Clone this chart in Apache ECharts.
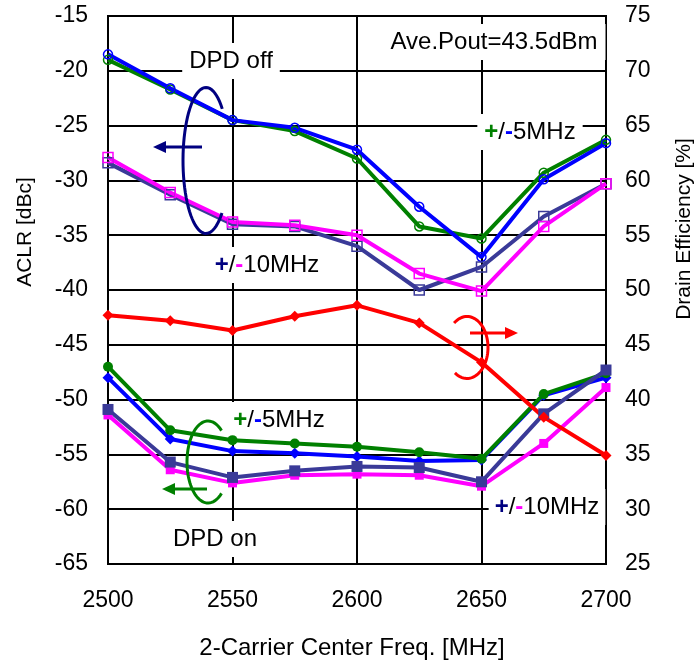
<!DOCTYPE html>
<html>
<head>
<meta charset="utf-8">
<script src="https://cdn.jsdelivr.net/npm/echarts@6/dist/echarts.min.js"></script>
<style>html,body{margin:0;padding:0;background:#fff}#c{width:697px;height:664px}</style>
</head>
<body>
<div id="c"></div>
<script>
var freqs = [2500, 2525, 2550, 2575, 2600, 2625, 2650, 2675, 2700];
var xTicks = [2500, 2550, 2600, 2650, 2700];
var aclrTicks = [-65, -60, -55, -50, -45, -40, -35, -30, -25, -20, -15];
var effTicks = [25, 30, 35, 40, 45, 50, 55, 60, 65, 70, 75];

// DPD off
var offBlue5  = [-18.5, -21.6, -24.5, -25.2, -27.2, -32.4, -37.0, -29.9, -26.6];
var offGreen5 = [-19.0, -21.7, -24.5, -25.5, -28.0, -34.2, -35.3, -29.3, -26.3];
var offMag10  = [-27.9, -31.1, -33.8, -34.1, -35.0, -38.5, -40.1, -34.2, -30.3];
var offSlate10= [-28.4, -31.3, -34.0, -34.2, -36.0, -40.0, -37.9, -33.3, -30.3];
// Drain efficiency [%]
var eff = [47.7, 47.2, 46.3, 47.6, 48.6, 47.0, 43.4, 38.4, 34.9];
// DPD on
var onGreen5  = [-47.0, -52.8, -53.7, -54.0, -54.3, -54.8, -55.4, -49.5, -47.6];
var onBlue5   = [-48.0, -53.6, -54.7, -54.9, -55.2, -55.6, -55.5, -49.6, -48.0];
var onSlate10 = [-50.9, -55.7, -57.1, -56.5, -56.1, -56.2, -57.5, -51.3, -47.3];
var onMag10   = [-51.4, -56.4, -57.6, -56.9, -56.8, -56.9, -57.9, -54.0, -48.9];

var FONT = "'Liberation Sans', Arial, Helvetica, sans-serif";
var BLUE = '#0000ff', GREEN = '#008000', MAG = '#ff00ff', SLATE = '#3a3a98', RED = '#ff0000', NAVY = '#000080';

function pairs(vals) { return freqs.map(function (f, i) { return [f, vals[i]]; }); }
function ser(name, vals, color, symbol, size, open, yIdx, width) {
  return {
    name: name, type: 'line', yAxisIndex: yIdx || 0, data: pairs(vals),
    symbol: symbol, symbolSize: size, showSymbol: true,
    lineStyle: { color: color, width: width || 4 },
    itemStyle: open ? { color: 'rgba(0,0,0,0)', borderColor: color, borderWidth: 1.5 }
                    : { color: color, borderColor: color, borderWidth: 0 },
    emphasis: { disabled: true }, z: 2
  };
}
function plain(v) { return String(v); }

var chart = echarts.init(document.getElementById('c'), null, { renderer: 'canvas' });
var option = {
  animation: false,
  backgroundColor: '#fff',
  grid: { left: 108, right: 91, top: 16, bottom: 100, show: true, borderColor: '#000', borderWidth: 2, backgroundColor: 'transparent' },
  xAxis: {
    type: 'value', min: xTicks[0], max: xTicks[xTicks.length - 1], interval: 50,
    axisLine: { show: true, lineStyle: { color: '#000', width: 2 } },
    axisTick: { show: false },
    axisLabel: { color: '#000', fontSize: 23, fontFamily: FONT, margin: 25, formatter: plain },
    splitLine: { show: true, lineStyle: { color: '#000', width: 2 } }
  },
  yAxis: [{
    type: 'value', min: aclrTicks[0], max: aclrTicks[aclrTicks.length - 1], interval: 5,
    axisLine: { show: true, lineStyle: { color: '#000', width: 2 } },
    axisTick: { show: false },
    axisLabel: { color: '#000', fontSize: 23, fontFamily: FONT, margin: 20, formatter: plain },
    splitLine: { show: true, lineStyle: { color: '#000', width: 2 } }
  }, {
    type: 'value', position: 'right', min: effTicks[0], max: effTicks[effTicks.length - 1], interval: 5,
    axisLine: { show: true, lineStyle: { color: '#000', width: 2 } },
    axisTick: { show: false },
    axisLabel: { color: '#000', fontSize: 23, fontFamily: FONT, margin: 19, formatter: plain },
    splitLine: { show: false }
  }],
  series: [
    ser('DPD off +5MHz', offGreen5, GREEN, 'circle', 9, true),
    ser('DPD off -5MHz', offBlue5, BLUE, 'circle', 9, true),
    ser('DPD off +10MHz', offSlate10, SLATE, 'rect', 10, true),
    ser('DPD off -10MHz', offMag10, MAG, 'rect', 10, true),
    ser('DPD on -5MHz', onBlue5, BLUE, 'diamond', 11, false),
    ser('DPD on +5MHz', onGreen5, GREEN, 'circle', 10, false),
    ser('DPD on -10MHz', onMag10, MAG, 'rect', 9, false),
    ser('DPD on +10MHz', onSlate10, SLATE, 'rect', 11, false),
    ser('Drain Efficiency', eff, RED, 'diamond', 11, false, 1, 4)
  ],
  graphic: { elements: [] }
};

function txt(x, y, text, rich, bg, pad) {
  return {
    type: 'text', x: x, y: y, z: 1,
    style: {
      text: text, fill: '#000', fontSize: 24, fontFamily: FONT,
      align: 'center', verticalAlign: 'middle',
      backgroundColor: bg ? '#fff' : null, padding: pad || [4, 5],
      rich: rich || {}
    }
  };
}
var plusMinus5 = { g: { fill: GREEN, fontSize: 24, fontFamily: FONT, fontWeight: 'bold' }, b: { fill: BLUE, fontSize: 24, fontFamily: FONT, fontWeight: 'bold' }, k: { fill: '#000', fontSize: 24, fontFamily: FONT } };
var plusMinus10 = { g: { fill: NAVY, fontSize: 24, fontFamily: FONT, fontWeight: 'bold' }, b: { fill: MAG, fontSize: 24, fontFamily: FONT, fontWeight: 'bold' }, k: { fill: '#000', fontSize: 24, fontFamily: FONT } };

var els = option.graphic.elements;
els.push(txt(231, 61, 'DPD off', null, true, [6, 7]));
els.push(txt(494, 42, 'Ave.Pout=43.5dBm', null, true, [6, 8]));
els.push(txt(530, 132, '{g|+}{k|/}{b|-}{k|5MHz}', plusMinus5, true, [6, 7]));
els.push(txt(267, 265, '{g|+}{k|/}{b|-}{k|10MHz}', plusMinus10, true, [6, 7]));
els.push(txt(279, 420, '{g|+}{k|/}{b|-}{k|5MHz}', plusMinus5, true, [6, 7]));
els.push(txt(215, 539, 'DPD on', null, true, [6, 7]));
els.push(txt(547, 507, '{g|+}{k|/}{b|-}{k|10MHz}', plusMinus10, true, [6, 6]));

// axis titles
els.push({ type: 'text', x: 352, y: 648, style: { text: '2-Carrier Center Freq. [MHz]', fill: '#000', fontSize: 24, fontFamily: FONT, align: 'center', verticalAlign: 'middle' } });
els.push({ type: 'text', x: 25, y: 232, rotation: Math.PI / 2, style: { text: 'ACLR [dBc]', fill: '#000', fontSize: 21, fontFamily: FONT, align: 'center', verticalAlign: 'middle' } });
els.push({ type: 'text', x: 684, y: 229, rotation: Math.PI / 2, style: { text: 'Drain Efficiency [%]', fill: '#000', fontSize: 21, fontFamily: FONT, align: 'center', verticalAlign: 'middle' } });

// decorative ellipse arcs and arrows
function ellArc(cx, cy, rx, ry, a0, a1, color) {
  var pts = [], n = 60;
  for (var i = 0; i <= n; i++) {
    var a = (a0 + (a1 - a0) * i / n) * Math.PI / 180;
    pts.push([cx + rx * Math.cos(a), cy + ry * Math.sin(a)]);
  }
  return { type: 'polyline', z: 10, shape: { points: pts }, style: { fill: null, stroke: color, lineWidth: 3 } };
}
els.push(ellArc(206, 160.5, 23, 73, -45, -314, NAVY));
els.push(ellArc(467, 347.5, 21, 31, -128, 125, RED));
els.push(ellArc(208, 462, 21, 41, -50, -310, GREEN));
function arrow(x1, x2, y, color) {
  var dir = x2 > x1 ? 1 : -1;
  var base = x2 - dir * 13;
  return [
    { type: 'line', z: 10, shape: { x1: x1, y1: y, x2: base, y2: y }, style: { stroke: color, lineWidth: 3 } },
    { type: 'polygon', z: 10, shape: { points: [[x2, y], [base, y - 6], [base, y + 6]] }, style: { fill: color } }
  ];
}
[].push.apply(els, arrow(202, 153, 147, NAVY));
[].push.apply(els, arrow(470, 518, 333, RED));
[].push.apply(els, arrow(207, 162, 489, GREEN));

chart.setOption(option);
</script>
</body>
</html>
